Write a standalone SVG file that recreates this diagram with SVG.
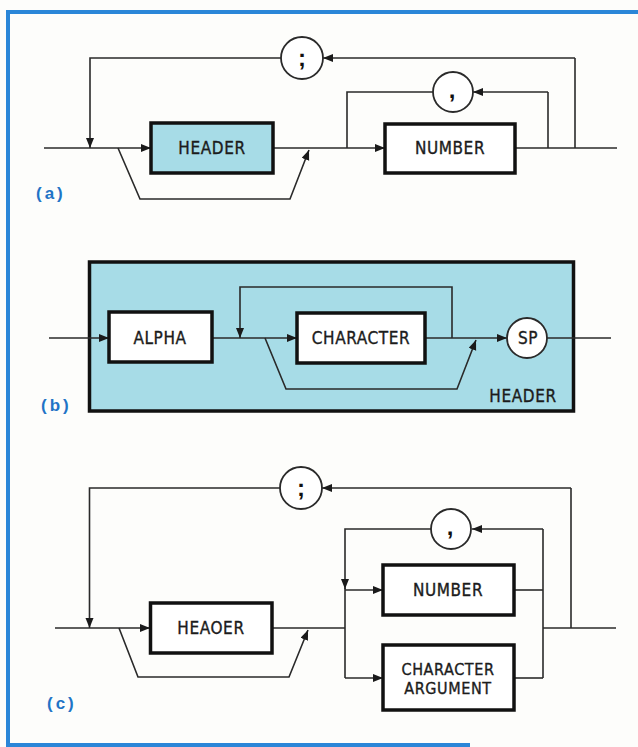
<svg xmlns="http://www.w3.org/2000/svg" width="638" height="747" viewBox="0 0 638 747">
<defs>
<marker id="ah" markerUnits="userSpaceOnUse" markerWidth="11" markerHeight="9" refX="10" refY="4" orient="auto">
<path d="M0,0 L10,4 L0,8 z" fill="#1a1a1a"/>
</marker>
<style>
.c{fill:none;stroke:#2a2a2a;stroke-width:1.6}
.a{marker-end:url(#ah)}
.box{fill:#fff;stroke:#111;stroke-width:3.5}
.sh{fill:#a7dce7}
.circ{fill:#fff;stroke:#2a2a2a;stroke-width:1.8}
.t{font-family:"DejaVu Sans Condensed","DejaVu Sans",sans-serif;font-stretch:condensed;font-size:17px;fill:#1c1c1c;stroke:#1c1c1c;stroke-width:0.35;text-anchor:middle;letter-spacing:0.6px}
.t2{font-size:16px}
.p{font-family:"Liberation Sans",sans-serif;font-weight:bold;font-size:24px;fill:#111;text-anchor:middle}
.lab{font-family:"Liberation Sans",sans-serif;font-weight:bold;font-size:17px;fill:#1f74c6;letter-spacing:3px}
.fr{fill:none;stroke:#2a86d8;stroke-width:4}
</style>
</defs>
<rect width="638" height="747" fill="#fdfdfb"/>
<path class="fr" d="M638,12 H8 V745 H470"/>

<g id="panel-b-bg">
<rect x="89.5" y="262" width="484" height="149" class="sh" stroke="#111" stroke-width="3.5"/>
<text class="t" x="523" y="402">HEADER</text>
</g>

<g id="connectors">
<!-- panel a -->
<path class="c a" d="M44,148 H151"/>
<path class="c" d="M575,148 V58"/>
<path class="c a" d="M575,58 H323"/>
<path class="c a" d="M281,58 H90 V148"/>
<path class="c a" d="M118,148 L140,199 H290 L309,150"/>
<path class="c a" d="M273,148 H385"/>
<path class="c" d="M548,148 V92"/>
<path class="c a" d="M548,92 H473"/>
<path class="c" d="M433,92 H347 V148"/>
<path class="c" d="M515,148 H617"/>
<!-- panel b -->
<path class="c a" d="M49,338 H109"/>
<path class="c a" d="M212,338 H297"/>
<path class="c a" d="M452,338 V287 H240 V338"/>
<path class="c a" d="M265,338 L286,389 H457 L476,340"/>
<path class="c a" d="M425,338 H507"/>
<path class="c" d="M547,338 H611"/>
<!-- panel c -->
<path class="c a" d="M55,628 H150"/>
<path class="c" d="M571,628 V488"/>
<path class="c a" d="M571,488 H322"/>
<path class="c a" d="M280,488 H89.5 V628"/>
<path class="c a" d="M119,628 L138,677 H289 L308,630"/>
<path class="c" d="M272,628 H345"/>
<path class="c a" d="M431,529 H345 V589"/>
<path class="c" d="M345,588 V678"/>
<path class="c" d="M543,678 V529"/>
<path class="c a" d="M543,529 H472"/>
<path class="c a" d="M345,590 H383"/>
<path class="c a" d="M345,678 H383"/>
<path class="c" d="M514,590 H543"/>
<path class="c" d="M514,678 H543"/>
<path class="c" d="M543,628 H616"/>
</g>

<!-- panel a nodes -->
<g id="a-header"><rect x="151" y="123" width="122" height="50" class="box" style="fill:#a7dce7"/><text class="t" x="212" y="154">HEADER</text></g>
<g id="a-number"><rect x="385" y="124" width="130" height="49" class="box"/><text class="t" x="450" y="154">NUMBER</text></g>
<g id="a-semicolon"><circle cx="302" cy="58" r="21" class="circ"/><text class="p" x="302" y="66">;</text></g>
<g id="a-comma"><circle cx="453" cy="92" r="20" class="circ"/><text class="p" x="452" y="98">,</text></g>
<text class="lab" x="36" y="199">(a)</text>

<!-- panel b nodes -->
<g id="b-alpha"><rect x="109" y="312" width="103" height="50" class="box"/><text class="t" x="160" y="344">ALPHA</text></g>
<g id="b-character"><rect x="297" y="313" width="128" height="50" class="box"/><text class="t" x="361" y="344">CHARACTER</text></g>
<g id="b-sp"><circle cx="527" cy="338" r="20" class="circ"/><text class="t" x="528" y="344">SP</text></g>
<text class="lab" x="41" y="411">(b)</text>

<!-- panel c nodes -->
<g id="c-header"><rect x="150.5" y="603" width="121.5" height="50" class="box"/><text class="t" x="211" y="634">HEAOER</text></g>
<g id="c-number"><rect x="383" y="565" width="131" height="50" class="box"/><text class="t" x="448" y="596">NUMBER</text></g>
<g id="c-charg"><rect x="383" y="645" width="131" height="65" class="box"/><text class="t t2" x="448" y="675">CHARACTER</text><text class="t t2" x="448" y="694">ARGUMENT</text></g>
<g id="c-semicolon"><circle cx="301" cy="488" r="21" class="circ"/><text class="p" x="301" y="496">;</text></g>
<g id="c-comma"><circle cx="451" cy="529" r="20" class="circ"/><text class="p" x="450" y="535">,</text></g>
<text class="lab" x="47" y="709">(c)</text>
</svg>
